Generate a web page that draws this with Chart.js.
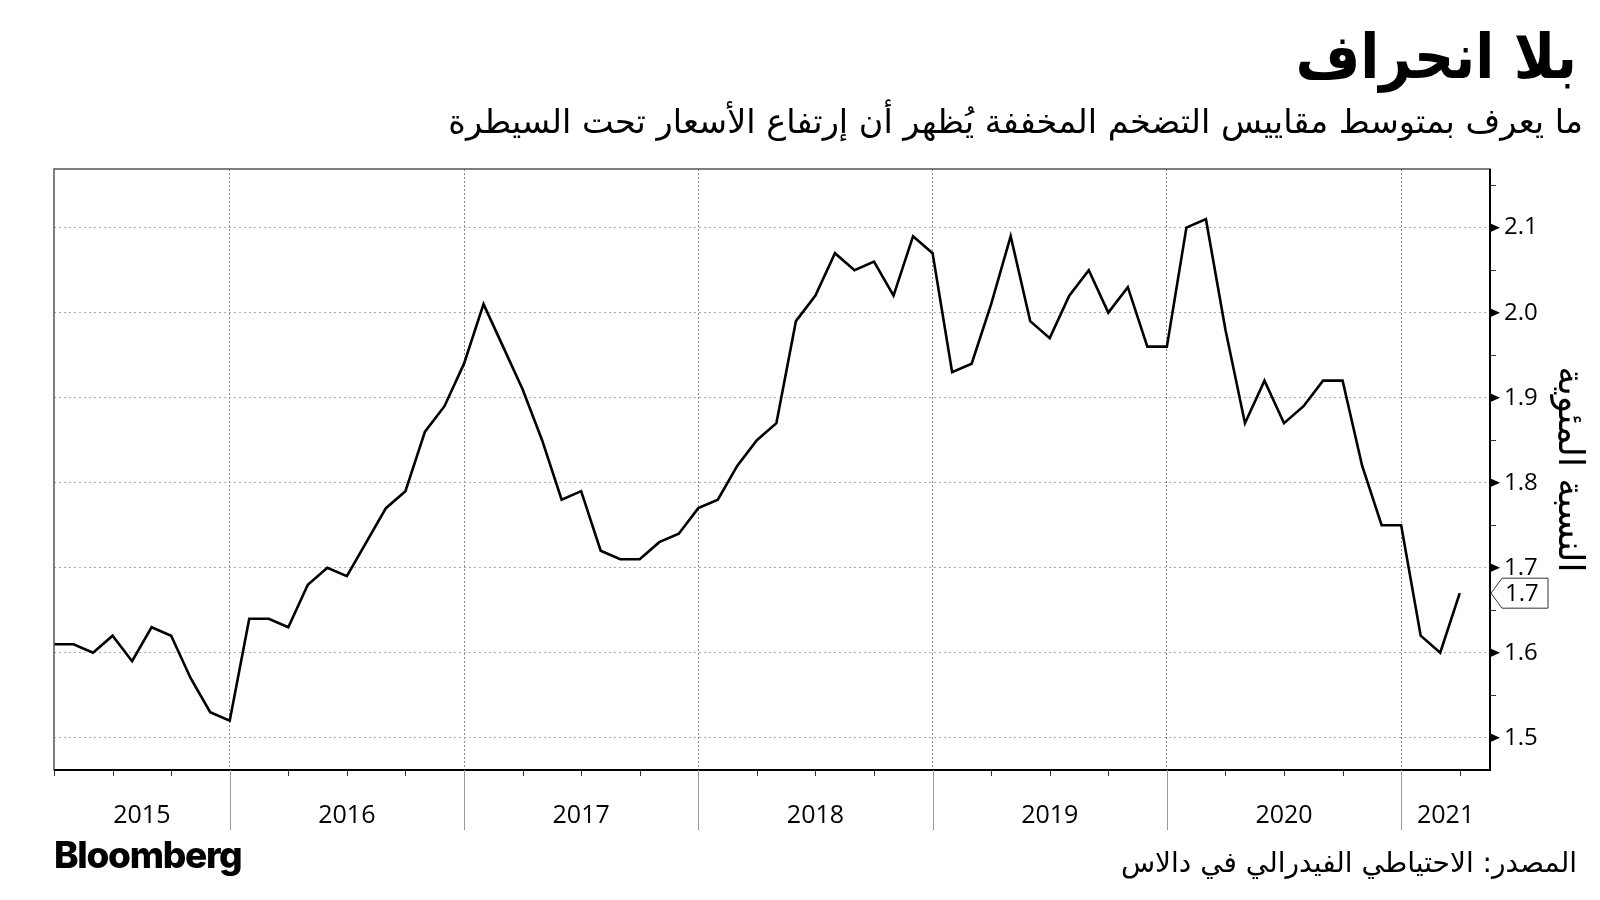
<!DOCTYPE html>
<html lang="ar">
<head>
<meta charset="utf-8">
<script src="https://cdn.jsdelivr.net/npm/chart.js@4.4.1/dist/chart.umd.min.js"></script>
<style>
  html, body { margin: 0; padding: 0; background: #fff; }
  body { width: 1600px; height: 900px; position: relative; overflow: hidden; color: #000; }
  canvas { position: absolute; left: 0; top: 0; }
  .ar { position: absolute; direction: rtl; white-space: nowrap; line-height: 1;
        font-family: "DejaVu Sans", sans-serif; }
  #title { right: 23px; top: 26px; font-size: 62px; font-weight: bold;
           font-family: "DejaVu Sans Condensed", "DejaVu Sans", sans-serif; }
  #subtitle { right: 17px; top: 105px; font-size: 33.5px; }
  #source { right: 23px; top: 849px; font-size: 28px; }
  #logo { position: absolute; left: 54px; top: 836px; font-family: Inter, sans-serif;
          font-weight: 800; font-size: 37px; letter-spacing: -1.3px; line-height: 1; }
</style>
</head>
<body>
<canvas id="chart" width="1600" height="900"></canvas>
<div id="title" class="ar">بلا انحراف</div>
<div id="subtitle" class="ar">ما يعرف بمتوسط مقاييس التضخم المخففة يُظهر أن إرتفاع الأسعار تحت السيطرة</div>
<div id="source" class="ar">المصدر: الاحتياطي الفيدرالي في دالاس</div>
<div id="logo">Bloomberg</div>
<script>
// monthly series, first point = April 2015, last = April 2021
const firstYear = 2015;
const firstMonth = 4;
const years = ['2015', '2016', '2017', '2018', '2019', '2020', '2021'];
const values = [
  1.61, 1.61, 1.60, 1.62, 1.59, 1.63, 1.62, 1.57, 1.53,
  1.52, 1.64, 1.64, 1.63, 1.68, 1.70, 1.69, 1.73, 1.77, 1.79, 1.86, 1.89, 1.94,
  2.01, 1.96, 1.91, 1.85, 1.78, 1.79, 1.72, 1.71, 1.71, 1.73, 1.74, 1.77,
  1.78, 1.82, 1.85, 1.87, 1.99, 2.02, 2.07, 2.05, 2.06, 2.02, 2.09, 2.07,
  1.93, 1.94, 2.01, 2.09, 1.99, 1.97, 2.02, 2.05, 2.00, 2.03, 1.96, 1.96,
  2.10, 2.11, 1.98, 1.87, 1.92, 1.87, 1.89, 1.92, 1.92, 1.82, 1.75, 1.75,
  1.62, 1.60, 1.67
];
const yTicks = ['1.5', '1.6', '1.7', '1.8', '1.9', '2.0', '2.1'];
const yTitle = 'النسبة المئوية';

// month index where each year starts (index 0 = first month)
const yearStart = y => (Number(y) - firstYear) * 12 - (firstMonth - 1);

const tickFont = { family: '"Open Sans", sans-serif', size: 24 };

const decorations = {
  id: 'decorations',
  afterDraw(chart) {
    const { ctx, chartArea: a, scales: { x, y } } = chart;
    ctx.save();

    // frame
    ctx.strokeStyle = '#555';
    ctx.lineWidth = 1.5;
    ctx.strokeRect(a.left, a.top, a.right - a.left, a.bottom - a.top);
    ctx.strokeStyle = '#000';
    ctx.lineWidth = 2;
    ctx.beginPath();
    ctx.moveTo(a.left, a.bottom); ctx.lineTo(a.right, a.bottom);
    ctx.moveTo(a.right, a.top); ctx.lineTo(a.right, a.bottom + 1);
    ctx.stroke();

    // quarter ticks under the x axis
    ctx.strokeStyle = '#333';
    ctx.lineWidth = 1;
    ctx.beginPath();
    for (let m = 0; m <= x.max; m += 3) {
      const px = Math.round(x.getPixelForValue(m)) + 0.5;
      ctx.moveTo(px, a.bottom); ctx.lineTo(px, a.bottom + 6);
    }
    ctx.stroke();

    // year separators and labels
    ctx.strokeStyle = '#999';
    ctx.beginPath();
    years.forEach(yr => {
      const s = yearStart(yr);
      if (s > x.min) {
        const px = Math.round(x.getPixelForValue(s)) + 0.5;
        ctx.moveTo(px, a.bottom); ctx.lineTo(px, a.bottom + 60);
      }
    });
    ctx.stroke();
    ctx.fillStyle = '#000';
    ctx.font = '25px "Open Sans", sans-serif';
    ctx.textAlign = 'center';
    ctx.textBaseline = 'middle';
    years.forEach(yr => {
      const s = Math.max(x.min, yearStart(yr));
      const e = Math.min(x.max, yearStart(yr) + 12);
      const cx = (x.getPixelForValue(s) + x.getPixelForValue(e)) / 2;
      ctx.fillText(yr, cx, a.bottom + 46);
    });

    // y axis: triangles at major ticks, small ticks between
    ctx.fillStyle = '#000';
    y.ticks.forEach(t => {
      const py = y.getPixelForValue(t.value);
      ctx.beginPath();
      ctx.moveTo(a.right, py - 4.5);
      ctx.lineTo(a.right + 10, py);
      ctx.lineTo(a.right, py + 4.5);
      ctx.closePath();
      ctx.fill();
      const half = t.value + 0.05;
      if (half <= y.max) {
        const ph = Math.round(y.getPixelForValue(half)) + 0.5;
        ctx.strokeStyle = '#333';
        ctx.beginPath();
        ctx.moveTo(a.right, ph); ctx.lineTo(a.right + 6, ph);
        ctx.stroke();
      }
    });

    // last value marker
    const last = values[values.length - 1];
    const py = y.getPixelForValue(last);
    ctx.beginPath();
    ctx.moveTo(a.right + 1, py);
    ctx.lineTo(a.right + 12, py - 15);
    ctx.lineTo(a.right + 58, py - 15);
    ctx.lineTo(a.right + 58, py + 15);
    ctx.lineTo(a.right + 12, py + 15);
    ctx.closePath();
    ctx.fillStyle = '#fff';
    ctx.fill();
    ctx.strokeStyle = '#333';
    ctx.lineWidth = 1;
    ctx.stroke();
    ctx.fillStyle = '#000';
    ctx.font = '24px "Open Sans", sans-serif';
    ctx.textAlign = 'left';
    ctx.textBaseline = 'middle';
    ctx.fillText(last.toFixed(1), a.right + 15, py + 1);

    ctx.restore();
  }
};

new Chart(document.getElementById('chart'), {
  type: 'line',
  data: {
    datasets: [{
      data: values.map((v, i) => ({ x: i, y: v })),
      borderColor: '#000',
      borderWidth: 2.6,
      pointRadius: 0,
      tension: 0
    }]
  },
  options: {
    responsive: false,
    animation: false,
    devicePixelRatio: 1,
    layout: { padding: { left: 54, top: 169, right: 0, bottom: 130 } },
    plugins: { legend: { display: false }, tooltip: { enabled: false } },
    scales: {
      x: {
        type: 'linear',
        min: 0,
        max: values.length - 1 + 1.55,
        afterBuildTicks: s => { s.ticks = years.map(yearStart).filter(v => v > s.min).map(v => ({ value: v })); },
        afterFit: s => { s.height = 0; },
        ticks: { display: false },
        grid: { color: '#888', lineWidth: 1, drawTicks: false },
        border: { display: false, dash: [2, 2] }
      },
      y: {
        position: 'right',
        min: 1.462,
        max: 2.169,
        afterBuildTicks: s => { s.ticks = yTicks.map(v => ({ value: Number(v) })); },
        afterFit: s => { s.width = 110; },
        ticks: {
          padding: 14,
          color: '#000',
          font: tickFont,
          callback: v => Number(v).toFixed(1)
        },
        grid: { color: '#aaa', lineWidth: 1, drawTicks: false },
        border: { display: false, dash: [2, 3] },
        title: {
          display: true,
          text: yTitle,
          color: '#000',
          font: { family: '"DejaVu Sans", sans-serif', size: 36, lineHeight: 1.2 },
          padding: { top: 10, bottom: 0 }
        }
      }
    }
  },
  plugins: [decorations]
});
</script>
</body>
</html>
